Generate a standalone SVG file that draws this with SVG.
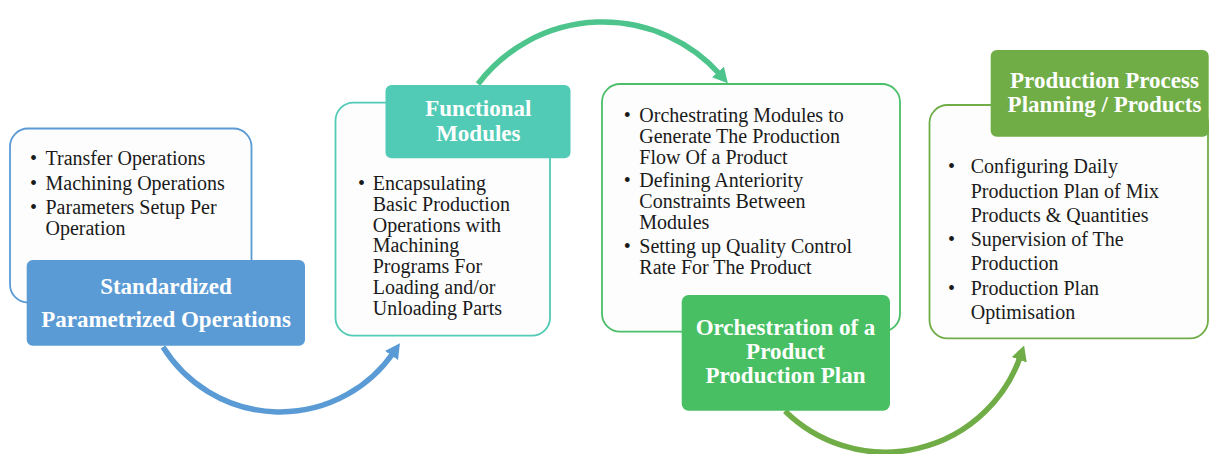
<svg xmlns="http://www.w3.org/2000/svg" width="1209" height="454" viewBox="0 0 1209 454">
<defs>
<style>
text{font-family:"Liberation Serif",Tinos,"Times New Roman",Times,"DejaVu Serif",serif}
.body{font-size:20px;fill:#1a1a1a}
.title{font-size:23px;font-weight:bold;fill:#ffffff;text-anchor:middle}
.outer{fill:#fdfdfd;stroke-width:1.8}
.conn{fill:none;stroke-width:5.5}
</style>
<marker id="ahBlue" markerUnits="userSpaceOnUse" markerWidth="20" markerHeight="20" refX="4" refY="8" orient="auto" viewBox="0 0 20 16"><path d="M0,0 L15,8 L0,16 z" fill="#5b9bd5"/></marker>
<marker id="ahTeal" markerUnits="userSpaceOnUse" markerWidth="20" markerHeight="20" refX="4" refY="8" orient="auto" viewBox="0 0 20 16"><path d="M0,0 L15,8 L0,16 z" fill="#4dc48c"/></marker>
<marker id="ahGreen" markerUnits="userSpaceOnUse" markerWidth="20" markerHeight="20" refX="4" refY="8" orient="auto" viewBox="0 0 20 16"><path d="M0,0 L15,8 L0,16 z" fill="#70ad47"/></marker>
</defs>
<rect width="1209" height="454" fill="#ffffff"/>
<g id="connectors">
<path class="conn" stroke="#5b9bd5" d="M163,347 A138,138 0 0 0 393.7,352.2" marker-end="url(#ahBlue)"/>
<path class="conn" stroke="#4dc48c" d="M478,84 A157,157 0 0 1 720.6,75" marker-end="url(#ahTeal)"/>
<path class="conn" stroke="#70ad47" d="M785,411 A143,143 0 0 0 1020.5,356" marker-end="url(#ahGreen)"/>
</g>
<g id="node1" font-family="Liberation Serif, serif">
<rect class="outer" x="10" y="128.5" width="241.5" height="174" rx="18" stroke="#5b9bd5"/>
<text class="body" x="30" y="165">•</text><text class="body" x="45.5" y="165">Transfer Operations</text>
<text class="body" x="30" y="190">•</text><text class="body" x="45.5" y="190">Machining Operations</text>
<text class="body" x="30" y="214">•</text><text class="body" x="45.5" y="214">Parameters Setup Per</text>
<text class="body" x="45.5" y="234.5">Operation</text>
<rect x="26.7" y="260" width="278.3" height="85.7" rx="6" fill="#5b9bd5"/>
<text class="title" x="166" y="294">Standardized</text>
<text class="title" x="166" y="327.3">Parametrized Operations</text>
</g>
<g id="node2">
<rect class="outer" x="335.5" y="102.7" width="214.5" height="233" rx="18" stroke="#52cbb6"/>
<rect x="385.5" y="85" width="185" height="73.3" rx="6" fill="#52cbb6"/>
<text class="title" x="478.3" y="116">Functional</text>
<text class="title" x="478.3" y="140.7">Modules</text>
<text class="body" x="358" y="190">•</text>
<text class="body" x="372.7" y="190">Encapsulating</text>
<text class="body" x="372.7" y="210.8">Basic Production</text>
<text class="body" x="372.7" y="231.6">Operations with</text>
<text class="body" x="372.7" y="252.4">Machining</text>
<text class="body" x="372.7" y="273.2">Programs For</text>
<text class="body" x="372.7" y="294">Loading and/or</text>
<text class="body" x="372.7" y="314.8">Unloading Parts</text>
</g>
<g id="node3">
<rect class="outer" x="602" y="84" width="298" height="247.7" rx="18" stroke="#4cbe6a"/>
<text class="body" x="623.7" y="122.3">•</text><text class="body" x="639.3" y="122.3">Orchestrating Modules to</text>
<text class="body" x="639.3" y="142.9">Generate The Production</text>
<text class="body" x="639.3" y="163.5">Flow Of a Product</text>
<text class="body" x="623.7" y="187.3">•</text><text class="body" x="639.3" y="187.3">Defining Anteriority</text>
<text class="body" x="639.3" y="208.1">Constraints Between</text>
<text class="body" x="639.3" y="228.9">Modules</text>
<text class="body" x="623.7" y="253.3">•</text><text class="body" x="639.3" y="253.3">Setting up Quality Control</text>
<text class="body" x="639.3" y="274">Rate For The Product</text>
<rect x="681.7" y="295" width="208.3" height="115.7" rx="7" fill="#48bf63"/>
<text class="title" x="785.5" y="335">Orchestration of a</text>
<text class="title" x="785.5" y="359.2">Product</text>
<text class="title" x="785.5" y="383.4">Production Plan</text>
</g>
<g id="node4">
<rect class="outer" x="929.5" y="105" width="278.5" height="233.3" rx="18" stroke="#70ad47"/>
<rect x="990.7" y="50" width="218" height="86.7" rx="6" fill="#70ad47"/>
<text class="title" x="1104.5" y="88.3">Production Process</text>
<text class="title" x="1104.5" y="111.7">Planning / Products</text>
<text class="body" x="948" y="173.3">•</text><text class="body" x="970.7" y="173.3">Configuring Daily</text>
<text class="body" x="970.7" y="197.5">Production Plan of Mix</text>
<text class="body" x="970.7" y="221.7">Products &amp; Quantities</text>
<text class="body" x="948" y="245.9">•</text><text class="body" x="970.7" y="245.9">Supervision of The</text>
<text class="body" x="970.7" y="270.1">Production</text>
<text class="body" x="948" y="294.5">•</text><text class="body" x="970.7" y="294.5">Production Plan</text>
<text class="body" x="970.7" y="318.5">Optimisation</text>
</g>
</svg>
